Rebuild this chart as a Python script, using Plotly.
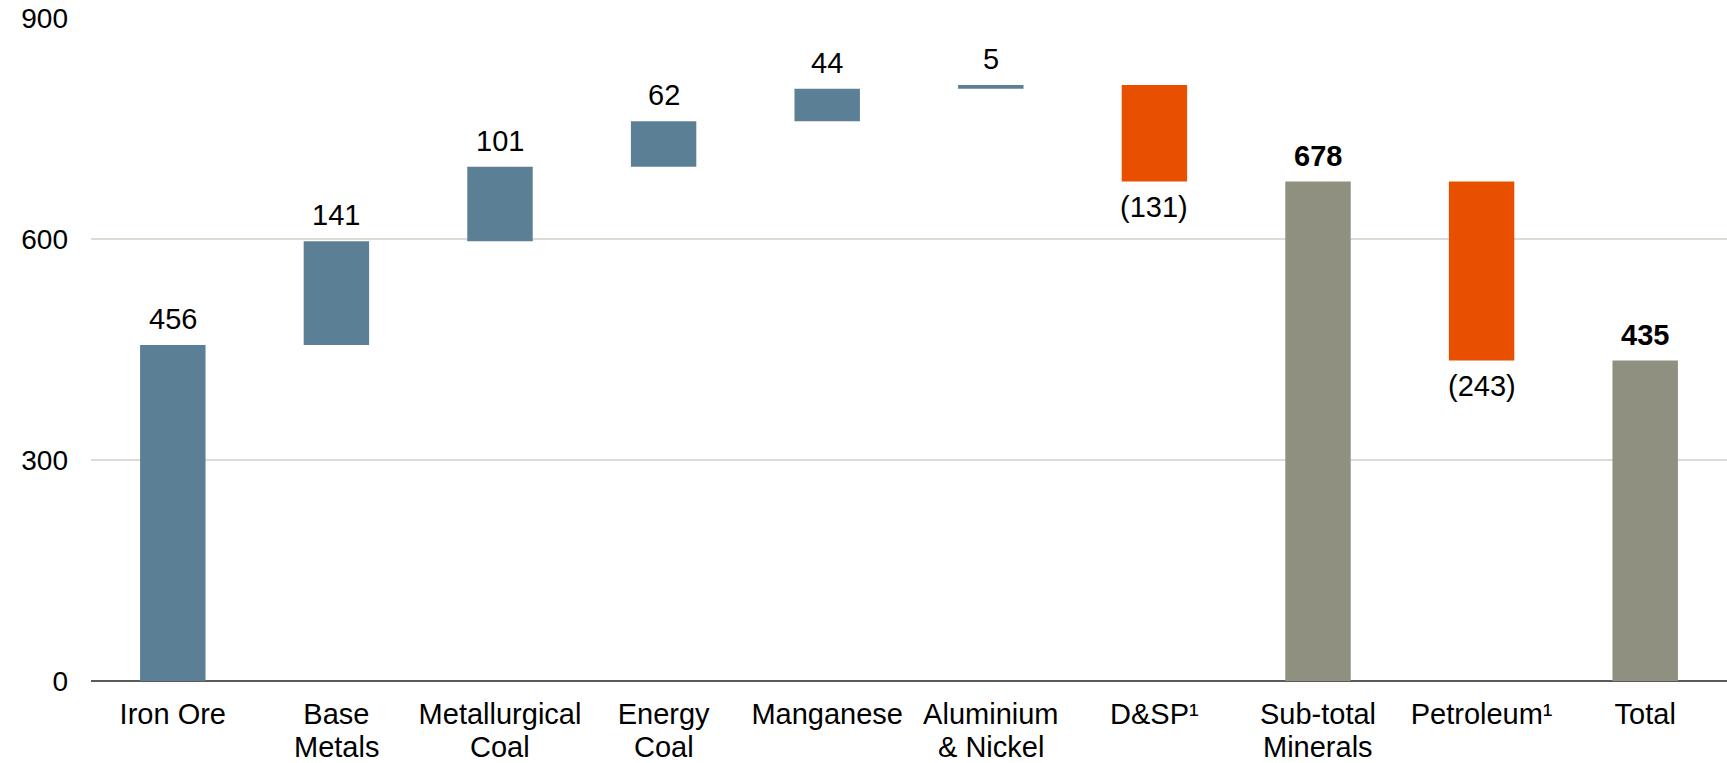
import plotly.graph_objects as go

categories = ["Iron Ore", "Base Metals", "Metallurgical Coal", "Energy Coal",
              "Manganese", "Aluminium & Nickel", "D&SP¹", "Sub-total Minerals",
              "Petroleum¹", "Total"]
label_line1 = ["Iron Ore", "Base", "Metallurgical", "Energy", "Manganese",
               "Aluminium", "D&SP¹", "Sub-total", "Petroleum¹", "Total"]
label_line2 = ["", "Metals", "Coal", "Coal", "", "& Nickel", "", "Minerals", "", ""]
values = [456, 141, 101, 62, 44, 5, -131, 678, -243, 435]
kinds = ["inc", "inc", "inc", "inc", "inc", "inc", "dec", "total", "dec", "total"]

colors_map = {"inc": "#5B7F95", "dec": "#E85000", "total": "#8F9080"}

bases, ys, texts, cols = [], [], [], []
running = 0
for v, k in zip(values, kinds):
    if k == "total":
        bases.append(0)
        ys.append(v)
        texts.append(f"<b>{v}</b>")
        running = v
    else:
        bases.append(running)
        ys.append(v)
        texts.append(f"({-v})" if v < 0 else f"{v}")
        running += v
    cols.append(colors_map[k])

FONT = "Liberation Sans, Arial"

fig = go.Figure(go.Bar(
    x=categories, y=ys, base=bases,
    marker=dict(color=cols, line=dict(width=0)),
    width=0.4, hoverinfo="x+y",
))

annotations = []
# value labels
for cat, b, y, t in zip(categories, bases, ys, texts):
    end = b + y
    if y >= 0:
        annotations.append(dict(x=cat, xref="x", y=end, yref="y", yanchor="bottom",
                                text=t, showarrow=False, yshift=8,
                                font=dict(family=FONT, size=29, color="#000000")))
    else:
        annotations.append(dict(x=cat, xref="x", y=end, yref="y", yanchor="top",
                                text=t, showarrow=False, yshift=-7,
                                font=dict(family=FONT, size=29, color="#000000")))
# second line of category labels
for cat, l2 in zip(categories, label_line2):
    if l2:
        annotations.append(dict(
            x=cat, xref="x", y=0, yref="paper", yanchor="top",
            text=l2, showarrow=False, yshift=-48,
            font=dict(family=FONT, size=29, color="#000000"),
        ))

fig.update_layout(
    width=1727, height=763,
    margin=dict(l=91, r=0, t=17.5, b=82),
    paper_bgcolor="white", plot_bgcolor="white",
    font=dict(family=FONT, size=29, color="#000000"),
    showlegend=False,
    bargap=0.6,
    annotations=annotations,
    xaxis=dict(showgrid=False, showline=False, ticks="", automargin=False,
               tickmode="array", tickvals=categories, ticktext=label_line1,
               tickfont=dict(size=29), ticklabelstandoff=13),
    yaxis=dict(range=[0, 900], tickvals=[0, 300, 600, 900], showgrid=True,
               gridcolor="#DCDCD4", gridwidth=2, zeroline=True,
               zerolinecolor="#5A5A5A", zerolinewidth=2, showline=False,
               ticks="", automargin=False, tickfont=dict(size=28),
               ticklabelstandoff=22),
)

fig.write_html("out.html", config={"displayModeBar": False},
               post_script="document.body.style.margin='0';document.body.style.overflow='hidden';")
